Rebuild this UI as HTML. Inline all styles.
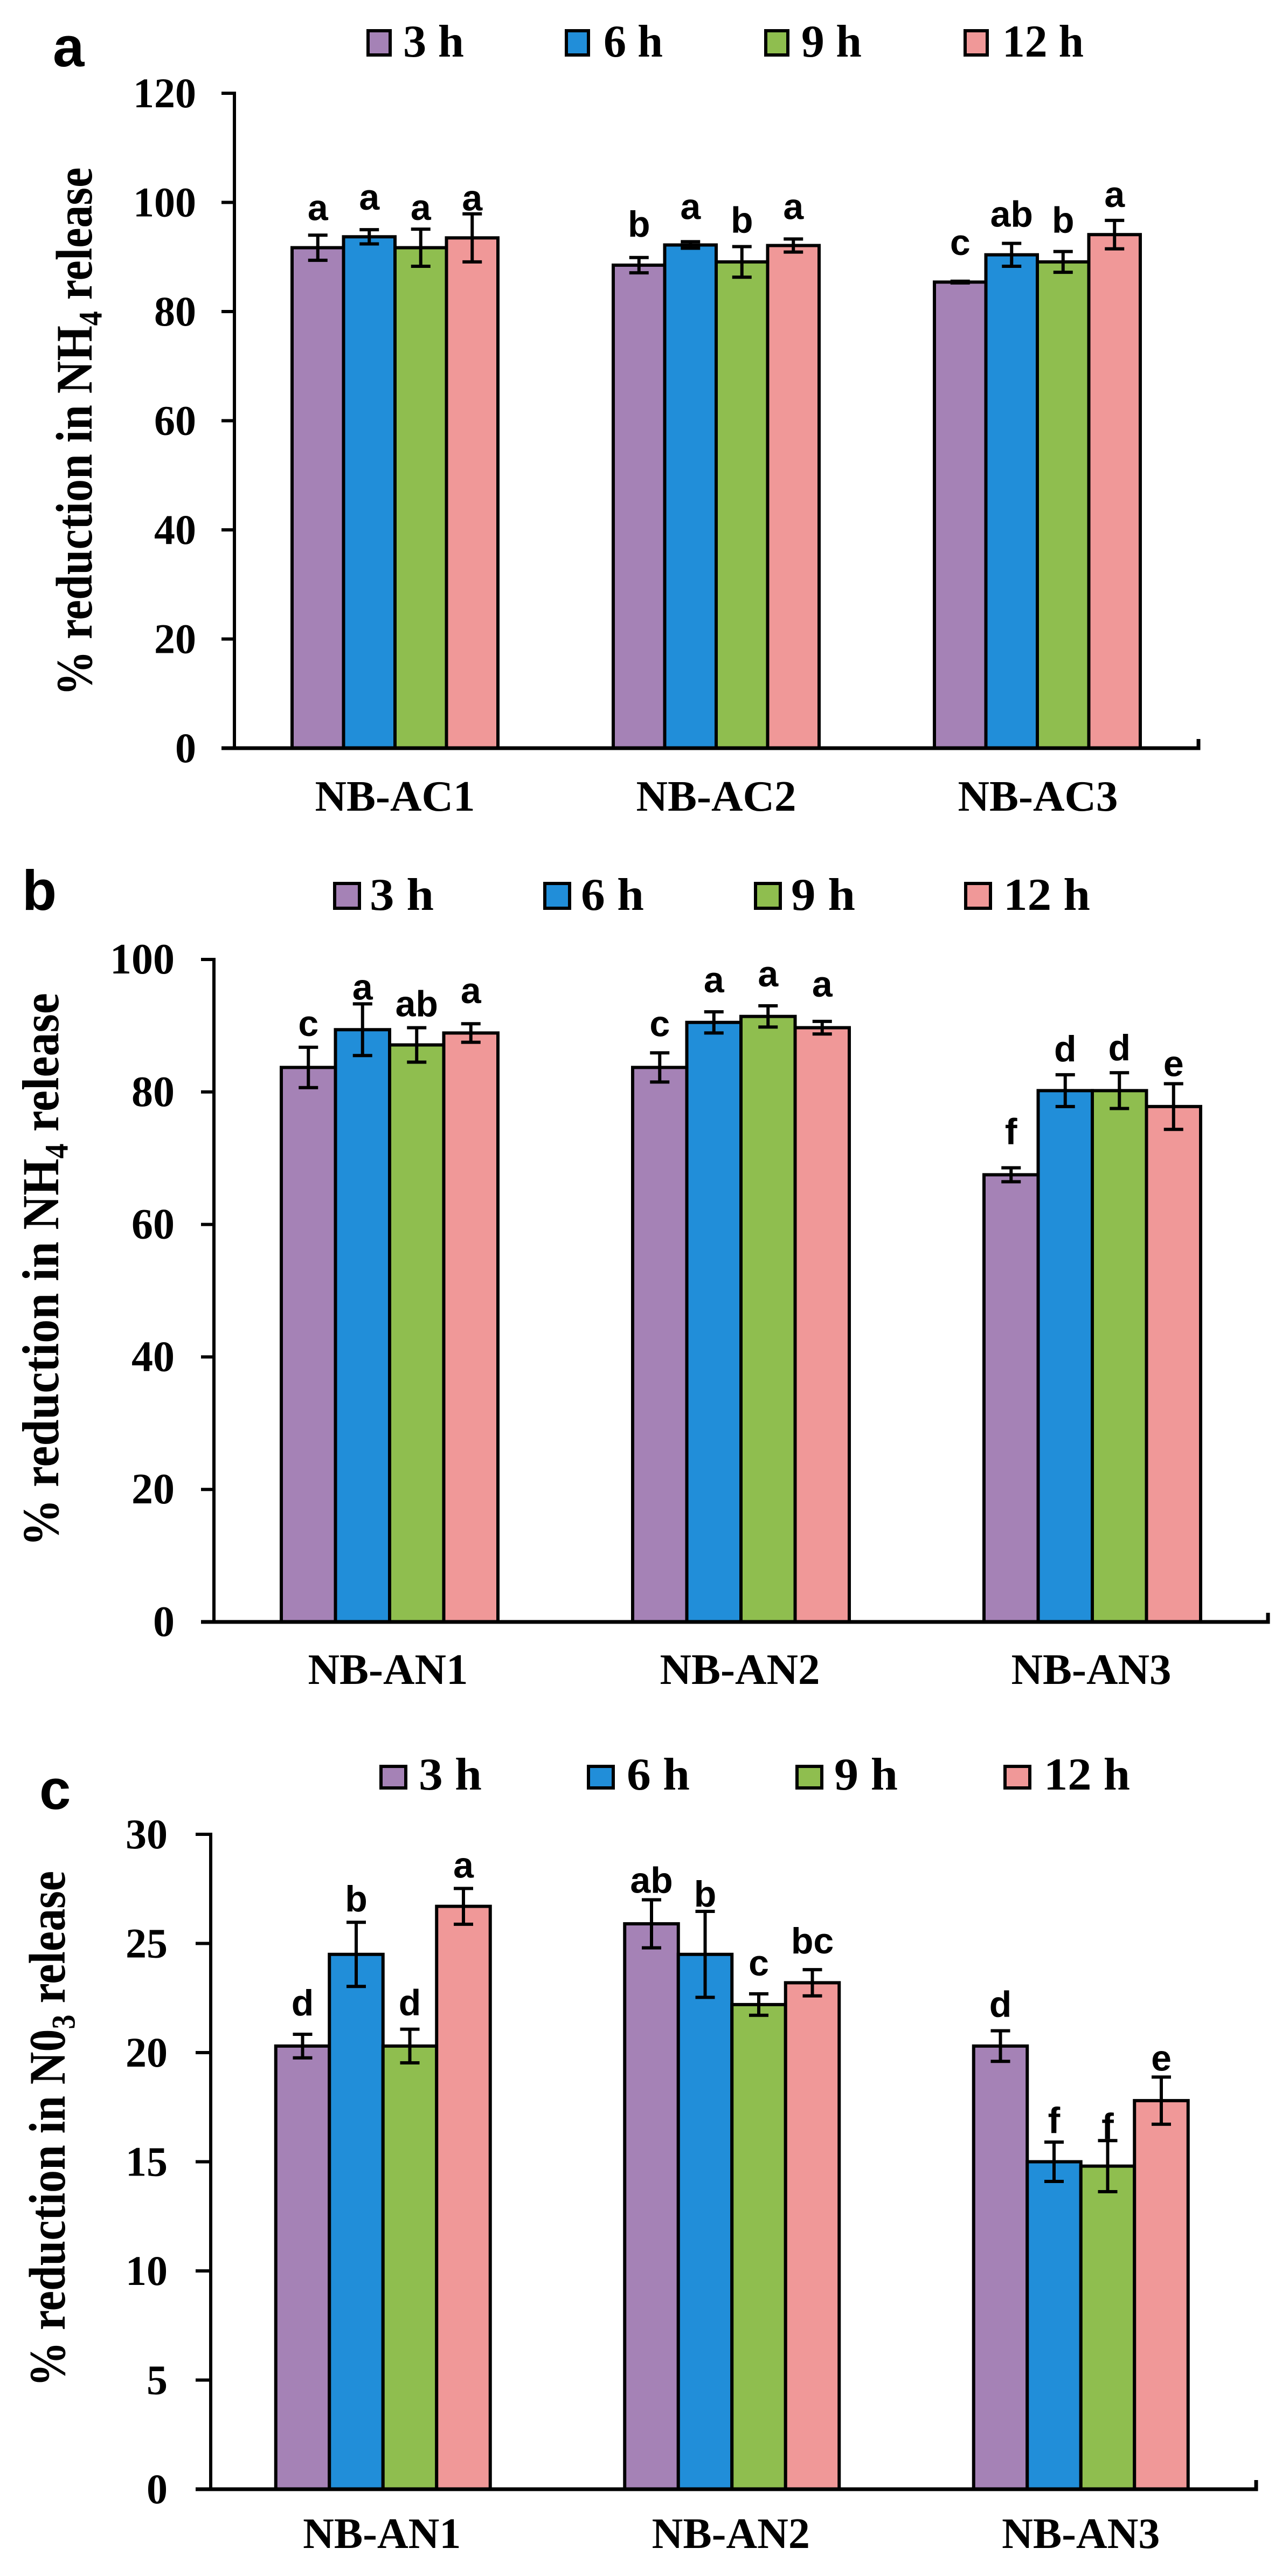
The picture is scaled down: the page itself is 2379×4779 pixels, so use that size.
<!DOCTYPE html>
<html lang="en">
<head>
<meta charset="utf-8">
<title>Percent reduction in NH4 and NO3 release</title>
<style>
  html, body { margin: 0; padding: 0; background: #ffffff; }
  svg { display: block; }
  text { fill: #000000; }
  .serif { font-family: "Liberation Serif", serif; font-weight: 700; }
  .sans { font-family: "Liberation Sans", sans-serif; font-weight: 700; }
</style>
</head>
<body>
<svg id="chart" xmlns="http://www.w3.org/2000/svg" width="2379" height="4779" viewBox="0 0 2379 4779">
  <rect x="0" y="0" width="2379" height="4779" fill="#ffffff"/>

  <text class="sans" x="98" y="123" font-size="105">a</text>
  <text class="sans" x="41" y="1688" font-size="105">b</text>
  <text class="sans" x="73" y="3356" font-size="105">c</text>

  <text class="serif" font-size="84" transform="translate(170,1291) rotate(-90) scale(1,1.14)">% reduction in NH<tspan font-size="54" dy="16">4</tspan><tspan dy="-16"> release</tspan></text>
  <text class="serif" font-size="88" transform="translate(108,2869) rotate(-90) scale(1,1.1)">% reduction in NH<tspan font-size="56" dy="16">4</tspan><tspan dy="-16"> release</tspan></text>
  <text class="serif" font-size="84" transform="translate(120,4428) rotate(-90) scale(1,1.14)">% reduction in N0<tspan font-size="54" dy="16">3</tspan><tspan dy="-16"> release</tspan></text>

  <g id="plots"></g>
</svg>

<script>
// ---------- Data ----------
const seriesNames = ['3 h', '6 h', '9 h', '12 h'];

const categoriesA = ['NB-AC1', 'NB-AC2', 'NB-AC3'];
const ticksA = [0, 20, 40, 60, 80, 100, 120];
const valuesA3h = [91.7, 88.5, 85.4];
const valuesA6h = [93.7, 92.2, 90.4];
const valuesA9h = [91.7, 89.1, 89.1];
const valuesA12h = [93.5, 92.1, 94.1];
const errorsA3h = [2.3, 1.4, 0.15];
const errorsA6h = [1.3, 0.6, 2.1];
const errorsA9h = [3.4, 2.8, 1.9];
const errorsA12h = [4.4, 1.2, 2.6];
const lettersA3h = ['a', 'b', 'c'];
const lettersA6h = ['a', 'a', 'ab'];
const lettersA9h = ['a', 'b', 'b'];
const lettersA12h = ['a', 'a', 'a'];

const categoriesB = ['NB-AN1', 'NB-AN2', 'NB-AN3'];
const ticksB = [0, 20, 40, 60, 80, 100];
const valuesB3h = [83.7, 83.7, 67.5];
const valuesB6h = [89.4, 90.5, 80.2];
const valuesB9h = [87.1, 91.4, 80.2];
const valuesB12h = [88.9, 89.7, 77.8];
const errorsB3h = [3.05, 2.2, 1.05];
const errorsB6h = [3.9, 1.6, 2.4];
const errorsB9h = [2.6, 1.6, 2.7];
const errorsB12h = [1.4, 0.95, 3.45];
const lettersB3h = ['c', 'c', 'f'];
const lettersB6h = ['a', 'a', 'd'];
const lettersB9h = ['ab', 'a', 'd'];
const lettersB12h = ['a', 'a', 'e'];

const categoriesC = ['NB-AN1', 'NB-AN2', 'NB-AN3'];
const ticksC = [0, 5, 10, 15, 20, 25, 30];
const valuesC3h = [20.3, 25.9, 20.3];
const valuesC6h = [24.5, 24.5, 15.0];
const valuesC9h = [20.3, 22.2, 14.8];
const valuesC12h = [26.7, 23.2, 17.8];
const errorsC3h = [0.54, 1.1, 0.7];
const errorsC6h = [1.47, 1.97, 0.9];
const errorsC9h = [0.77, 0.49, 1.17];
const errorsC12h = [0.82, 0.6, 1.08];
const lettersC3h = ['d', 'ab', 'd'];
const lettersC6h = ['b', 'b', 'f'];
const lettersC9h = ['d', 'c', 'f'];
const lettersC12h = ['a', 'bc', 'e'];

// ---------- Styling and layout ----------
const seriesColors = ['#A582B6', '#218ED9', '#8FBE4F', '#F09898'];

const layoutA = {
  id: 'a', yMax: 120, yTop: 173, yZero: 1388, axisX: 435, tickLeft: 411, axisEnd: 2224, bandStart: 435, bandWidth: 596, barStep: 95.5,
  tickRight: 364, tickFont: 78, catFont: 81, catBase: 1504, catShift: [0, 0, 1],
  lift: [[28, 37, 17, 6.5], [39, 42, 26, 37], [49, 31, 35, 25]],
  legendBoxX: [680, 1048, 1418, 1788], legendBoxY: 54, legendBoxW: 47, legendBoxH: 51,
  legendTextX: [748, 1120, 1487, 1860], legendTextLen: [113, 110, 112, 151], legendBase: 105
};
const layoutB = {
  id: 'b', yMax: 100, yTop: 1780, yZero: 3009, axisX: 397, tickLeft: 373, axisEnd: 2353, bandStart: 397, bandWidth: 652, barStep: 100.5,
  tickRight: 324, tickFont: 80, catFont: 81, catBase: 3124, catShift: [-3, -2, -2],
  lift: [[21, 8, 21, 38], [31, 36, 36, 46], [44, 25, 23, 14]],
  legendBoxX: [618, 1008, 1399, 1789], legendBoxY: 1636, legendBoxW: 52, legendBoxH: 52,
  legendTextX: [686, 1078, 1468, 1862], legendTextLen: [119, 117, 119, 161], legendBase: 1688
};
const layoutC = {
  id: 'c', yMax: 30, yTop: 3403, yZero: 4618, axisX: 391, tickLeft: 363, axisEnd: 2331, bandStart: 387, bandWidth: 647.5, barStep: 99.5,
  tickRight: 311, tickFont: 78, catFont: 80, catBase: 4727, catShift: [-2, -2, 0],
  lift: [[35, 20, 26, 20], [13, 9, 34, 30], [26, 17, 3, 12]],
  legendBoxX: [704, 1089, 1476, 1862], legendBoxY: 3274, legendBoxW: 52, legendBoxH: 46,
  legendTextX: [777, 1163, 1548, 1937], legendTextLen: [117, 117, 118, 160], legendBase: 3320
};

const SVG_NS = 'http://www.w3.org/2000/svg';
const plots = document.getElementById('plots');

function make(tag, parent, attrs, text) {
  const node = document.createElementNS(SVG_NS, tag);
  for (const key in attrs) node.setAttribute(key, attrs[key]);
  if (text !== undefined) node.textContent = text;
  parent.appendChild(node);
  return node;
}

function drawPanel(layout, categories, ticks, values, errors, letters) {
  const yScale = function (v) { return layout.yZero - v * (layout.yZero - layout.yTop) / layout.yMax; };
  const bandCenter = function (i) { return layout.bandStart + (i + 0.5) * layout.bandWidth; };
  const barLeft = function (i, s) { return bandCenter(i) + (s - 2) * layout.barStep; };

  const panel = make('g', plots, {});
  
  

  // Legend
  seriesNames.forEach(function (name, s) {
    const entry = make('g', panel, {});
    
    
    const swatch = make('rect', entry, {
      x: layout.legendBoxX[s] + 3, y: layout.legendBoxY + 3,
      width: layout.legendBoxW - 6, height: layout.legendBoxH - 6,
      fill: seriesColors[s], stroke: '#000', 'stroke-width': 6
    });
    
    
    const label = make('text', entry, {
      class: 'serif', x: layout.legendTextX[s], y: layout.legendBase, 'font-size': 85,
      textLength: layout.legendTextLen[s], lengthAdjust: 'spacingAndGlyphs'
    }, name);
    
    
  });

  // Bars, error bars and significance letters
  categories.forEach(function (category, i) {
    const group = make('g', panel, {});
    
    

    seriesNames.forEach(function (name, s) {
      const left = barLeft(i, s);
      const top = yScale(values[s][i]);
      const bar = make('rect', group, {
        x: left, y: top, width: layout.barStep, height: layout.yZero - top,
        fill: seriesColors[s], stroke: '#000', 'stroke-width': 6
      });
      
      
    });

    seriesNames.forEach(function (name, s) {
      const cx = barLeft(i, s) + layout.barStep / 2;
      const hi = yScale(values[s][i] + errors[s][i]);
      const lo = yScale(values[s][i] - errors[s][i]);
      const whisker = make('path', group, {
        d: 'M' + cx + ' ' + hi + 'V' + lo + 'M' + (cx - 18) + ' ' + hi + 'H' + (cx + 18) + 'M' + (cx - 18) + ' ' + lo + 'H' + (cx + 18),
        fill: 'none', stroke: '#000', 'stroke-width': 6
      });
      
      
      const letter = make('text', group, {
        class: 'sans', x: cx, y: hi - layout.lift[i][s], 'font-size': 68, 'text-anchor': 'middle'
      }, letters[s][i]);
      
      
    });

    const catLabel = make('text', panel, {
      class: 'serif', x: bandCenter(i) + layout.catShift[i], y: layout.catBase,
      'font-size': layout.catFont, 'text-anchor': 'middle'
    }, category);
    
    
  });

  // Axes
  const yAxis = make('line', panel, {
    x1: layout.axisX, x2: layout.axisX, y1: layout.yTop - 3, y2: layout.yZero,
    stroke: '#000', 'stroke-width': 6
  });
  
  

  const xAxis = make('path', panel, {
    d: 'M' + layout.tickLeft + ' ' + layout.yZero + 'H' + layout.axisEnd + 'V' + (layout.yZero - 17),
    fill: 'none', stroke: '#000', 'stroke-width': 7
  });
  
  

  ticks.forEach(function (t) {
    const ty = yScale(t);
    const mark = make('line', panel, {
      x1: layout.tickLeft, x2: layout.axisX, y1: ty, y2: ty, stroke: '#000', 'stroke-width': 6
    });
    
    
    const tickLabel = make('text', panel, {
      class: 'serif', x: layout.tickRight, y: ty + 26, 'font-size': layout.tickFont, 'text-anchor': 'end'
    }, String(t));
    
    
  });
}

drawPanel(layoutA, categoriesA, ticksA,
  [valuesA3h, valuesA6h, valuesA9h, valuesA12h],
  [errorsA3h, errorsA6h, errorsA9h, errorsA12h],
  [lettersA3h, lettersA6h, lettersA9h, lettersA12h]);
drawPanel(layoutB, categoriesB, ticksB,
  [valuesB3h, valuesB6h, valuesB9h, valuesB12h],
  [errorsB3h, errorsB6h, errorsB9h, errorsB12h],
  [lettersB3h, lettersB6h, lettersB9h, lettersB12h]);
drawPanel(layoutC, categoriesC, ticksC,
  [valuesC3h, valuesC6h, valuesC9h, valuesC12h],
  [errorsC3h, errorsC6h, errorsC9h, errorsC12h],
  [lettersC3h, lettersC6h, lettersC9h, lettersC12h]);
</script>
</body>
</html>
